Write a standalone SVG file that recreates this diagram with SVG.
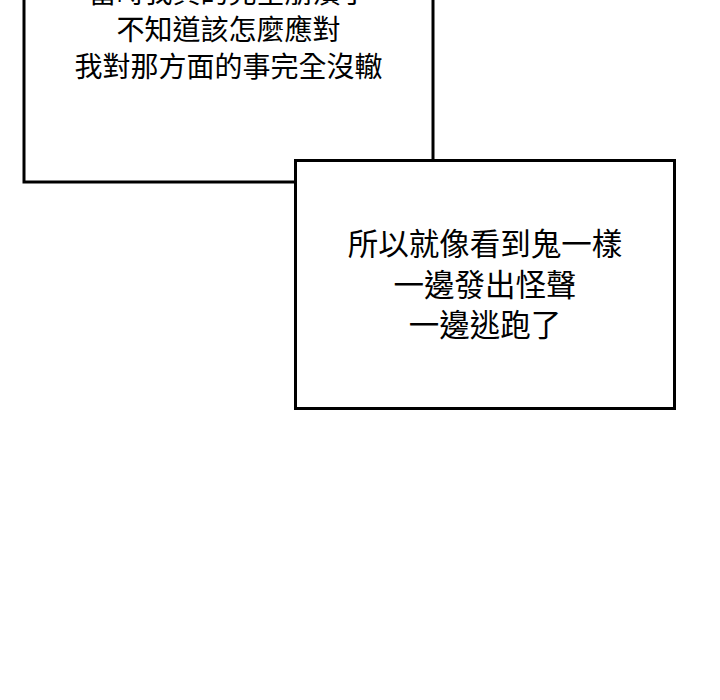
<svg xmlns="http://www.w3.org/2000/svg" width="720" height="700" viewBox="0 0 720 700">
<style>
.box{fill:#fff;stroke:#000;stroke-width:3}
.t1{font-family:"Noto Sans CJK TC","Noto Sans CJK SC",sans-serif;font-size:28px;fill:#000;text-anchor:middle}
.t2{font-family:"Noto Sans CJK TC","Noto Sans CJK SC",sans-serif;font-size:30.5px;fill:#000;text-anchor:middle}
</style>
<rect width="720" height="700" fill="#fff"/>
<g id="box1">
<rect class="box" x="24" y="-20" width="409" height="202"/>
<text class="t1" x="228.5" y="3">當時我真的完全崩潰了</text>
<text class="t1" x="228.5" y="40">不知道該怎麼應對</text>
<text class="t1" x="228.5" y="77">我對那方面的事完全沒轍</text>
</g>
<g id="box2">
<rect class="box" x="295.5" y="160.5" width="379" height="248"/>
<text class="t2" x="485" y="255">所以就像看到鬼一樣</text>
<text class="t2" x="485" y="296">一邊發出怪聲</text>
<text class="t2" x="485" y="336">一邊逃跑了</text>
</g>
<g id="connectors"></g>
</svg>
